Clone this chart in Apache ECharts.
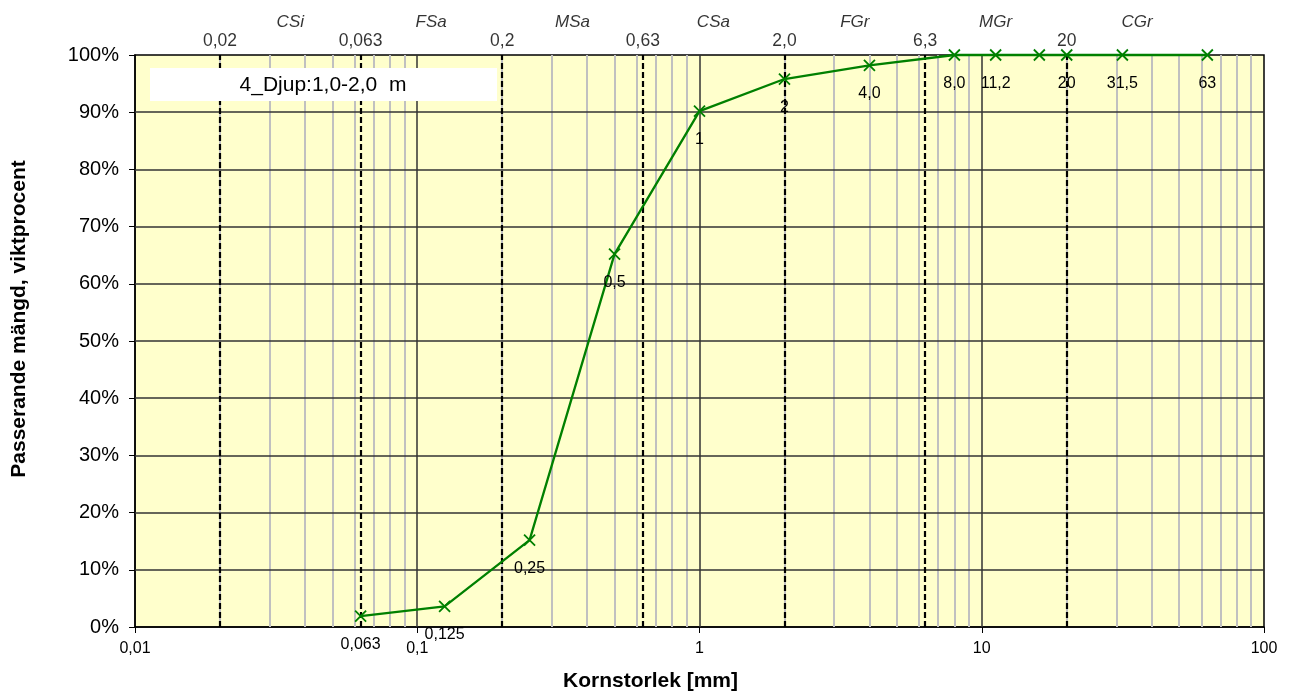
<!DOCTYPE html>
<html>
<head>
<meta charset="utf-8">
<script src="https://cdn.jsdelivr.net/npm/echarts@6/dist/echarts.min.js"></script>
<style>
  html, body { margin: 0; padding: 0; background: #fff; }
  #chart { width: 1290px; height: 691px; }
</style>
</head>
<body>
<div id="chart"></div>
<script>
// Sieve analysis: grain size (mm) vs passing percentage by weight
const sampleName = '4_Djup:1,0-2,0  m';
const sieveSizes = [0.063, 0.125, 0.25, 0.5, 1, 2, 4, 8, 11.2, 16, 20, 31.5, 63];
const passingPct = [1.9, 3.6, 15.2, 65.2, 90.2, 95.8, 98.2, 100, 100, 100, 100, 100, 100];
const sieveLabels = ['0,063', '0,125', '0,25', '0,5', '1', '2', '4,0', '8,0', '11,2', '', '20', '31,5', '63'];

// Fraction boundaries (dashed) and their captions along the top
const boundaryValues = [0.02, 0.063, 0.2, 0.63, 2, 6.3, 20];
const boundaryLabels = ['0,02', '0,063', '0,2', '0,63', '2,0', '6,3', '20'];
// Fraction names placed mid-way (log scale) between boundaries
const fractionCenters = [0.0355, 0.112, 0.355, 1.12, 3.55, 11.2, 35.5];
const fractionNames = ['CSi', 'FSa', 'MSa', 'CSa', 'FGr', 'MGr', 'CGr'];

// Axis ticks
const xMajor = [0.1, 1, 10];
const yTicks = [10, 20, 30, 40, 50, 60, 70, 80, 90];

const FONT = 'Liberation Sans, Arial, sans-serif';

// light grey minor lines at 2..9 of every decade
const xMinor = [];
[0.01, 0.1, 1, 10].forEach(d => { for (let k = 2; k <= 9; k++) xMinor.push(+(d * k).toPrecision(3)); });

// full-height vertical segment / full-width horizontal segment in data space
const vSeg = v => ({ coords: [[v, 0], [v, 100]] });
const hSeg = v => ({ coords: [[0.01, v], [100, v]] });

const chart = echarts.init(document.getElementById('chart'));

const gridLines = (data, style, z) => ({
  type: 'lines', coordinateSystem: 'cartesian2d', silent: true, z: z,
  data: data, lineStyle: Object.assign({ opacity: 1, curveness: 0 }, style)
});

chart.setOption({
  animation: false,
  grid: {
    left: 135, right: 26, top: 55, bottom: 64, outerBoundsMode: 'none', containLabel: false,
    show: true, backgroundColor: '#FFFFCC', borderColor: '#000', borderWidth: 1.5
  },
  xAxis: {
    type: 'log', logBase: 10, min: 0.01, max: 100,
    name: 'Kornstorlek [mm]', nameLocation: 'middle', nameGap: 44,
    nameTextStyle: { fontFamily: FONT, fontWeight: 'bold', fontSize: 21, color: '#000', padding: [0, 98, 0, 0] },
    axisLine: { lineStyle: { color: '#000', width: 1.5 } },
    axisTick: { show: true, length: 6, lineStyle: { color: '#000' } },
    axisLabel: { fontFamily: FONT, fontSize: 16, color: '#000', margin: 14,
      formatter: v => String(v).replace('.', ',') },
    splitLine: { show: false }
  },
  yAxis: {
    type: 'value', min: 0, max: 100, interval: 10,
    name: 'Passerande mängd, viktprocent', nameLocation: 'middle', nameGap: 105,
    nameTextStyle: { fontFamily: FONT, fontWeight: 'bold', fontSize: 21, color: '#000', padding: [0, 0, 0, 44] },
    axisLine: { show: true, lineStyle: { color: '#000', width: 1.5 } },
    axisTick: { show: true, length: 6, lineStyle: { color: '#000' } },
    axisLabel: { fontFamily: FONT, fontSize: 20, color: '#000', margin: 16, formatter: '{value}%' },
    splitLine: { show: false }
  },
  graphic: [{
    type: 'group', left: 150, top: 68, z: 100,
    children: [
      { type: 'rect', z: 100, shape: { x: 0, y: 0, width: 347, height: 33 }, style: { fill: '#fff' } },
      { type: 'text', z: 101, x: 173, y: 17, style: { text: sampleName, fontFamily: FONT, fontSize: 21,
        fill: '#000', align: 'center', verticalAlign: 'middle' } }
    ]
  }],
  series: [
    gridLines(xMinor.map(vSeg), { color: '#C0C0C0', width: 2, type: 'solid' }, 1),
    gridLines(yTicks.map(hSeg), { color: '#333', width: 1.5, type: 'solid' }, 2),
    gridLines(xMajor.map(vSeg), { color: '#333', width: 1.5, type: 'solid' }, 3),
    gridLines(boundaryValues.map(vSeg), { color: '#000', width: 2.2, type: [6, 3] }, 4),
    { // boundary captions
      type: 'scatter', z: 6, symbolSize: 1, itemStyle: { color: 'transparent' }, silent: true,
      data: boundaryValues.map(v => [v, 100]),
      label: { show: true, position: 'inside', offset: [0, -14], fontFamily: FONT, fontSize: 17.5, color: '#000',
        formatter: p => boundaryLabels[p.dataIndex] }
    },
    { // fraction names
      type: 'scatter', z: 6, symbolSize: 1, itemStyle: { color: 'transparent' }, silent: true,
      data: fractionCenters.map(v => [v, 100]),
      label: { show: true, position: 'inside', offset: [0, -33], fontFamily: FONT, fontSize: 17,
        fontStyle: 'italic', color: '#000', formatter: p => fractionNames[p.dataIndex] }
    },
    { // grading curve
      type: 'line', z: 10,
      data: sieveSizes.map((x, i) => [x, passingPct[i]]),
      lineStyle: { color: '#008000', width: 2.3 },
      symbol: 'path://M0,0L10,10M10,0L0,10', symbolSize: 11, showAllSymbol: true,
      itemStyle: { color: '#008000', borderColor: '#008000', borderWidth: 1.8 },
      label: { show: true, position: 'inside', offset: [0, 28.5], fontFamily: FONT, fontSize: 16, color: '#000',
        formatter: p => sieveLabels[p.dataIndex] },
      clip: false
    }
  ]
});
</script>
</body>
</html>
